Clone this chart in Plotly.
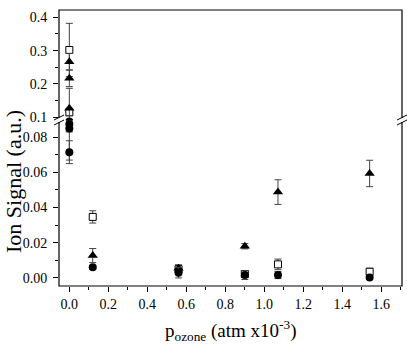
import plotly.graph_objects as go

# ---- data ----
x_sq = [0.0, 0.0, 0.12, 0.56, 0.90, 1.07, 1.54]
y_sq = [0.302, 0.115, 0.0347, 0.0050, 0.0022, 0.0077, 0.0035]
e_sq = [0.080, 0.010, 0.0035, 0.0020, 0.0020, 0.0030, 0.0020]

x_tri = [0.0, 0.0, 0.0, 0.12, 0.56, 0.90, 1.07, 1.54]
y_tri = [0.267, 0.217, 0.127, 0.0127, 0.0055, 0.0180, 0.0488, 0.0594]
e_tri = [0.025, 0.025, 0.060, 0.0040, 0.0020, 0.0015, 0.0070, 0.0075]

x_ci = [0.0, 0.0, 0.0, 0.12, 0.56, 0.90, 1.07, 1.54]
y_ci = [0.0875, 0.0850, 0.0715, 0.0060, 0.0030, 0.0016, 0.0016, 0.0003]
e_ci = [0.0020, 0.0020, 0.0065, 0.0010, 0.0030, 0.0025, 0.0020, 0.0010]

x_ticks = [0.0, 0.2, 0.4, 0.6, 0.8, 1.0, 1.2, 1.4, 1.6]

# ---- layout geometry (pixels) ----
W, H = 407, 349
L, R, T, B = 59, 5, 10, 63
PW, PH = W - L - R, H - T - B
BREAK_Y = 120  # pixel row of axis break
brk = (H - B - BREAK_Y) / PH

def px(X):
    return (X - L) / PW

def py(Y):
    return (H - B - Y) / PH

FONT = "Liberation Serif"
series = [
    (x_sq, y_sq, e_sq, dict(symbol="square", size=7, color="white",
                            line=dict(color="black", width=1))),
    (x_tri, y_tri, e_tri, dict(symbol="triangle-up", size=9, color="black",
                               line=dict(color="black", width=0))),
    (x_ci, y_ci, e_ci, dict(symbol="circle", size=8, color="black",
                            line=dict(color="black", width=0))),
]

fig = go.Figure()
for yax in ["y", "y2"]:
    for xs, ys, es, mk in series:
        fig.add_trace(go.Scatter(
            x=xs, y=ys, mode="markers", yaxis=yax, xaxis="x",
            marker=mk, cliponaxis=True, showlegend=False,
            error_y=dict(type="data", array=es, visible=True,
                         color="#444444", thickness=1, width=3.5),
        ))

tickfont = dict(family=FONT, size=14, color="black")
fig.update_layout(
    width=W, height=H,
    margin=dict(l=L, r=R, t=T, b=B),
    paper_bgcolor="white", plot_bgcolor="white",
    xaxis=dict(range=[-0.053, 1.706], tickvals=x_ticks, tickformat=".1f",
               ticks="outside", ticklen=5, tickcolor="black", showgrid=False,
               zeroline=False, showline=False, tickfont=tickfont,
               minor=dict(dtick=0.1, tick0=0, ticks="outside", ticklen=3,
                          tickcolor="black", showgrid=False),
               anchor="y"),
    yaxis=dict(domain=[0, brk], range=[-0.0046, 0.0898], tick0=0, dtick=0.02,
               tickformat=".2f", ticks="outside", ticklen=5, tickcolor="black",
               showgrid=False, zeroline=False, showline=False, tickfont=tickfont,
               ticklabelstandoff=3,
               minor=dict(dtick=0.01, tick0=0, ticks="outside", ticklen=3,
                          tickcolor="black", showgrid=False),
               anchor="x"),
    yaxis2=dict(domain=[brk, 1], range=[0.0919, 0.422], tick0=0, dtick=0.1,
                tickformat=".1f", ticks="outside", ticklen=5, tickcolor="black",
                showgrid=False, zeroline=False, showline=False, tickfont=tickfont,
                ticklabelstandoff=3,
                minor=dict(dtick=0.05, tick0=0, ticks="outside", ticklen=3,
                           tickcolor="black", showgrid=False),
                anchor="x"),
)

shapes = [dict(type="rect", xref="paper", yref="paper", x0=0, x1=1, y0=0, y1=1,
               line=dict(color="black", width=1.2), fillcolor="rgba(0,0,0,0)",
               layer="above")]
for X in (L, W - R):
    shapes.append(dict(type="rect", xref="paper", yref="paper",
                       x0=px(X - 2), x1=px(X + 2), y0=py(BREAK_Y + 2), y1=py(BREAK_Y - 2),
                       line=dict(width=0), fillcolor="white", layer="above"))
    for c in (BREAK_Y - 2.5, BREAK_Y + 2.5):
        shapes.append(dict(type="line", xref="paper", yref="paper",
                           x0=px(X - 5), y0=py(c + 2.5), x1=px(X + 5), y1=py(c - 2.5),
                           line=dict(color="black", width=1), layer="above"))
fig.update_layout(shapes=shapes)

fig.add_annotation(text="Ion Signal (a.u.)", xref="paper", yref="paper",
                   x=px(13), y=py(182), xanchor="center", yanchor="middle",
                   textangle=-90, showarrow=False,
                   font=dict(family=FONT, size=22, color="black"))
fig.add_annotation(text="p<sub>ozone</sub> (atm x10<sup>-3</sup>)", xref="paper", yref="paper",
                   x=px(230), y=py(330), xanchor="center", yanchor="middle",
                   showarrow=False, font=dict(family=FONT, size=19, color="black"))

fig.write_html("out.html")
